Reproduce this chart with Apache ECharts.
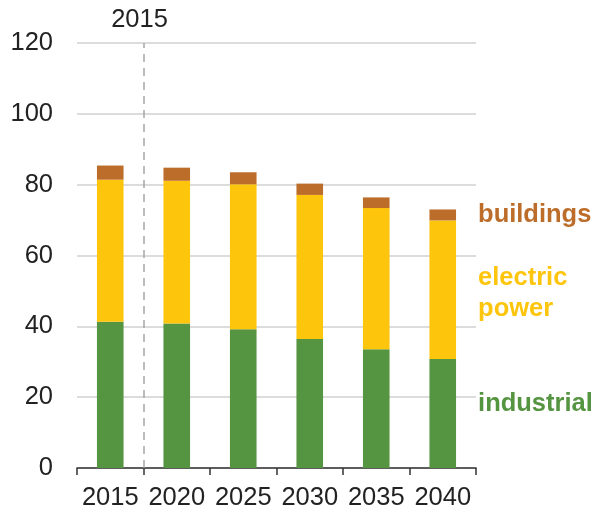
<!DOCTYPE html>
<html>
<head>
<meta charset="utf-8">
<script src="https://cdn.jsdelivr.net/npm/echarts@6/dist/echarts.min.js"></script>
<style>
  html, body { margin: 0; padding: 0; background: #fff; }
  #chart { width: 596px; height: 515px; }
</style>
</head>
<body>
<div id="chart"></div>
<script>
// categories and stacked values
const years = ['2015', '2020', '2025', '2030', '2035', '2040']
const industrial = [41.3, 40.8, 39.2, 36.4, 33.5, 30.8]
const electricPower = [40.1, 40.3, 40.9, 40.7, 39.9, 39.1]
const buildings = [4.0, 3.7, 3.4, 3.2, 3.0, 3.1]
const seriesNames = ['industrial', 'electric\npower', 'buildings']
const markYear = '2015'

const font = 'Liberation Sans, Arial, sans-serif'
const colors = ['#559440', '#fdc50c', '#bc6d2a']

// put a text label beside the last bar only
function withEndLabel (values, color, offsetY) {
  return values.map((v, i) => {
    if (i !== values.length - 1) return v
    return {
      value: v,
      label: {
        show: true,
        position: 'right',
        distance: 22,
        offset: [0, offsetY],
        formatter: '{a}',
        color: color,
        fontFamily: font,
        fontWeight: 'bold',
        fontSize: 25.5,
        lineHeight: 31,
        align: 'left'
      }
    }
  })
}

const chart = echarts.init(document.getElementById('chart'))
const option = {
  animation: false,
  grid: { left: 77, right: 120, top: 43, bottom: 47 },
  xAxis: [
    {
      type: 'category',
      data: years,
      axisLine: { lineStyle: { color: '#333', width: 1.5 } },
      axisTick: { show: true, length: 7, lineStyle: { color: '#333', width: 1.5 } },
      axisLabel: { interval: 0, color: '#222', fontFamily: font, fontSize: 25.5, margin: 17 }
    },
    { type: 'value', min: 0, max: 6, show: false }
  ],
  yAxis: {
    type: 'value',
    min: 0,
    max: 120,
    interval: 20,
    axisLine: { show: false },
    axisTick: { show: false },
    axisLabel: { color: '#222', fontFamily: font, fontSize: 25.5, margin: 24 },
    splitLine: { lineStyle: { color: '#d0d0d0', width: 1.5 } }
  },
  series: [
    {
      name: seriesNames[0],
      type: 'bar',
      stack: 'total',
      barWidth: '40%',
      itemStyle: { color: colors[0] },
      data: withEndLabel(industrial, colors[0], -9)
    },
    {
      name: seriesNames[1],
      type: 'bar',
      stack: 'total',
      itemStyle: { color: colors[1] },
      data: withEndLabel(electricPower, colors[1], 4)
    },
    {
      name: seriesNames[2],
      type: 'bar',
      stack: 'total',
      itemStyle: { color: colors[2] },
      data: withEndLabel(buildings, colors[2], 0)
    },
    {
      type: 'line',
      xAxisIndex: 1,
      data: [],
      markLine: {
        silent: true,
        symbol: 'none',
        lineStyle: { type: [8, 6], color: '#a6a6a6', width: 1.5 },
        label: {
          show: true,
          position: 'end',
          distance: 10,
          offset: [-4, 0],
          formatter: markYear,
          color: '#222',
          fontFamily: font,
          fontSize: 25.5
        },
        data: [{ xAxis: 1 }]
      }
    }
  ]
}
chart.setOption(option)
</script>
</body>
</html>
